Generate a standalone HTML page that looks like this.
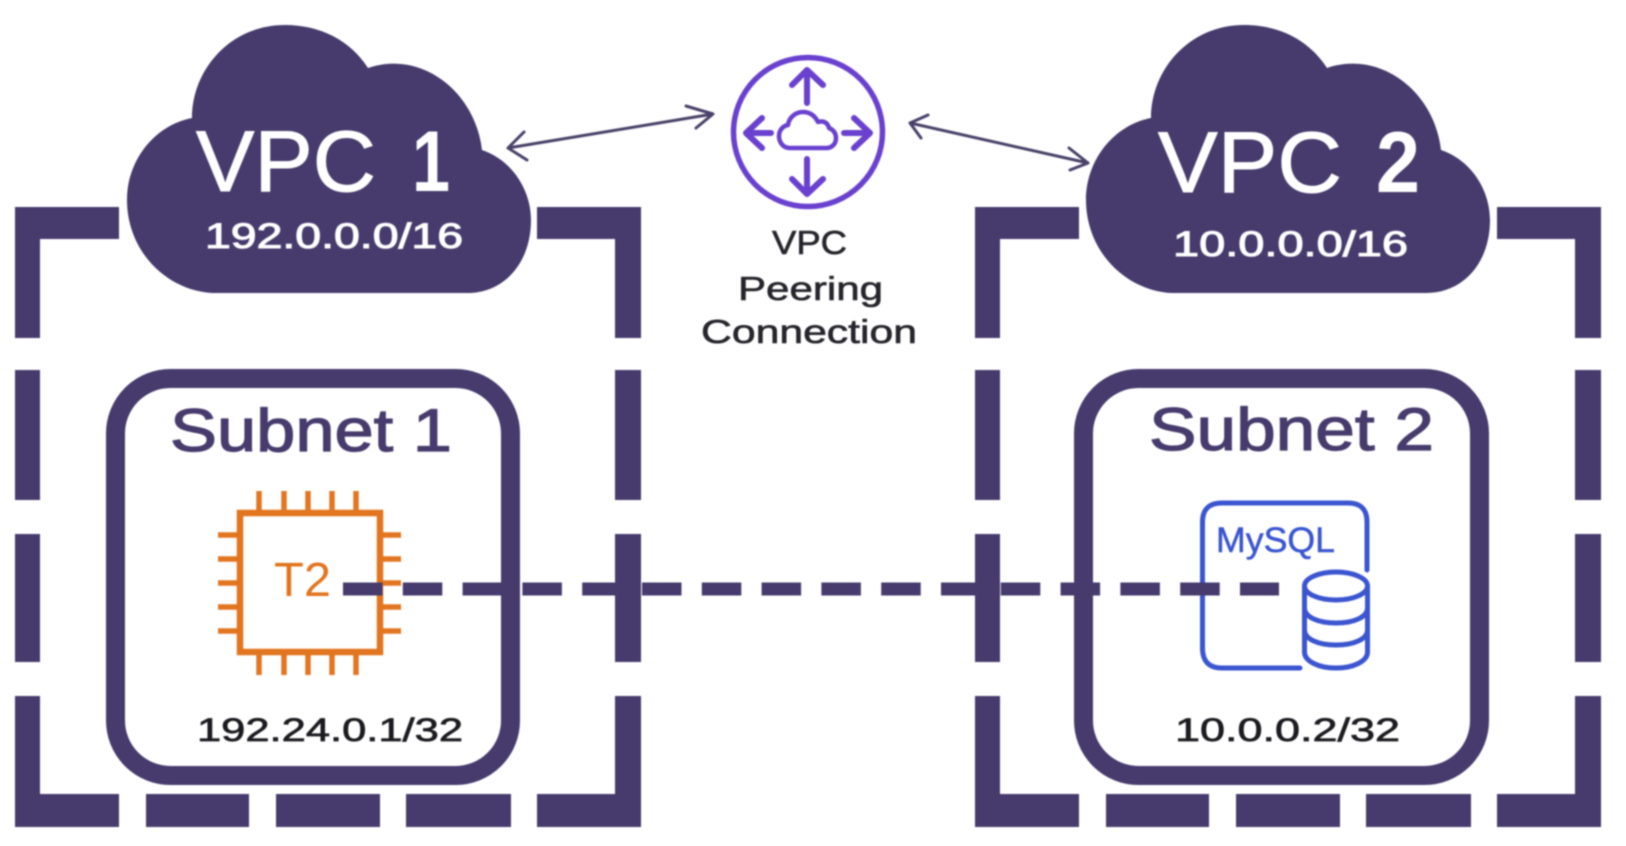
<!DOCTYPE html>
<html>
<head>
<meta charset="utf-8">
<style>
html,body{margin:0;padding:0;background:#fff;width:1626px;height:846px;overflow:hidden}
svg{display:block;filter:blur(0.8px)}
text{font-family:"Liberation Sans",sans-serif}
.w{stroke:#fff;stroke-width:1}
.p{stroke:#463b6c;stroke-width:1.2}
.k{stroke:#1c1b20;stroke-width:.7}
</style>
</head>
<body>
<svg width="1626" height="846" viewBox="0 0 1626 846" xmlns="http://www.w3.org/2000/svg">
<rect width="1626" height="846" fill="#fff"/>
<defs>
<g id="frame" fill="#463b6c">
<path d="M15 207H119V239H40V338H15Z"/>
<path d="M641 207H537V239H615V338H641Z"/>
<rect x="15" y="370" width="25" height="130"/>
<rect x="15" y="534" width="25" height="128"/>
<rect x="615" y="370" width="26" height="130"/>
<rect x="615" y="534" width="26" height="128"/>
<path d="M15 696H40V794H119V827H15Z"/>
<path d="M641 696H615V794H537V827H641Z"/>
<rect x="146" y="794" width="103" height="33"/>
<rect x="276" y="794" width="104" height="33"/>
<rect x="406" y="794" width="105" height="33"/>
</g>
<path id="cloud" fill="#463b6c" d="M212 293C165 290 127 250 127 200C127 160 155 125 192 118C192 70 230 25 285 25C320 25 350 40 368 68C420 50 475 90 482 150C512 160 531 190 531 220C531 262 505 293 467 293Z"/>
</defs>

<use href="#frame"/>
<use href="#frame" x="960"/>
<use href="#cloud"/>
<use href="#cloud" x="959"/>

<rect x="115.500" y="378.500" width="395" height="397" rx="55" fill="none" stroke="#463b6c" stroke-width="19"/>
<rect x="1083.500" y="378.500" width="396" height="397" rx="55" fill="none" stroke="#463b6c" stroke-width="19"/>

<text class="w" x="196" y="191" font-size="86" fill="#fff" textLength="180" lengthAdjust="spacingAndGlyphs">VPC</text>
<text x="412" y="191" font-size="86" font-weight="bold" fill="#fff" textLength="38" lengthAdjust="spacingAndGlyphs">1</text>
<text class="w" x="205" y="248" font-size="35" fill="#fff" textLength="258" lengthAdjust="spacingAndGlyphs">192.0.0.0/16</text>
<text class="w" x="1158" y="192" font-size="86" fill="#fff" textLength="184" lengthAdjust="spacingAndGlyphs">VPC</text>
<text x="1376" y="192" font-size="86" font-weight="bold" fill="#fff" textLength="44" lengthAdjust="spacingAndGlyphs">2</text>
<text class="w" x="1173" y="256" font-size="35" fill="#fff" textLength="235" lengthAdjust="spacingAndGlyphs">10.0.0.0/16</text>

<g fill="none" stroke="#4a4268" stroke-width="3" stroke-linecap="round" stroke-linejoin="round">
<path d="M508 148L713 114M524 132L508 148L527 160M686 106L713 114L696 128"/>
<path d="M910 123L1088 163M928 115L910 123L921 138M1069 148L1088 163L1070 170"/>
</g>

<g fill="none" stroke="#6a41cf" stroke-linecap="round" stroke-linejoin="round">
<circle cx="808" cy="132" r="74.500" stroke-width="5.500"/>
<g stroke-width="6">
<path d="M807 103V70M792 85L807 70L823 85"/>
<path d="M807 159V194M792 179L807 194L823 179"/>
<path d="M771 133H746M762 118L746 133L762 148"/>
<path d="M844 133H870M854 118L870 133L854 148"/>
</g>
<path stroke-width="4.500" d="M790 148C782 148 779 141 779 136C779 130 783 126 788 125C789 117 796 112 803 112C810 112 815 116 818 122C825 120 828 124 829 128C834 130 836 134 836 138C836 144 832 148 826 148Z"/>
</g>

<g fill="#26252b" font-size="33" stroke="#26252b" stroke-width=".6">
<text x="772" y="254" textLength="75" lengthAdjust="spacingAndGlyphs">VPC</text>
<text x="738" y="300" textLength="145" lengthAdjust="spacingAndGlyphs">Peering</text>
<text x="701" y="343" textLength="216" lengthAdjust="spacingAndGlyphs">Connection</text>
</g>

<text class="p" x="170" y="451" font-size="60" fill="#463b6c" textLength="282" lengthAdjust="spacingAndGlyphs">Subnet 1</text>
<text class="p" x="1149" y="450" font-size="60" fill="#463b6c" textLength="285" lengthAdjust="spacingAndGlyphs">Subnet 2</text>

<g stroke="#e2751f" fill="none">
<rect x="240" y="513" width="140" height="139" stroke-width="6.500"/>
<g stroke-width="5.500">
<path d="M259 491V510M284 491V510M308 491V510M332 491V510M356 491V510"/>
<path d="M259 655V675M284 655V675M308 655V675M332 655V675M356 655V675"/>
<path d="M218 535H237M218 559H237M218 583H237M218 607H237M218 631H237"/>
<path d="M383 535H401M383 559H401M383 583H401M383 607H401M383 631H401"/>
</g>
</g>
<text x="274" y="596" font-size="48" fill="#e2751f" textLength="57" lengthAdjust="spacingAndGlyphs">T2</text>

<g fill="none" stroke="#3b55d0" stroke-width="5" stroke-linecap="round">
<path d="M1367 570V522Q1367 503 1348 503H1222Q1202.500 503 1202.500 522V648Q1202.500 668 1222 668H1300"/>
<ellipse cx="1336" cy="586" rx="31.500" ry="14"/>
<path d="M1304.500 586V652C1304.500 661 1318 668 1336 668C1354 668 1367.500 661 1367.500 652V586"/>
<path d="M1304.500 608C1304.500 617 1318 623 1336 623C1354 623 1367.500 617 1367.500 608"/>
<path d="M1304.500 630C1304.500 639 1318 645 1336 645C1354 645 1367.500 639 1367.500 630"/>
</g>
<text x="1216" y="552" font-size="35" fill="#3b55d0" stroke="#3b55d0" stroke-width=".5" textLength="119" lengthAdjust="spacingAndGlyphs">MySQL</text>

<text class="k" x="197" y="741" font-size="32" fill="#1c1b20" textLength="266" lengthAdjust="spacingAndGlyphs">192.24.0.1/32</text>
<text class="k" x="1175" y="741" font-size="32" fill="#1c1b20" textLength="225" lengthAdjust="spacingAndGlyphs">10.0.0.2/32</text>

<path d="M343 589H1279" stroke="#463b6c" stroke-width="13" stroke-dasharray="39.500 20.300" fill="none"/>
</svg>
</body>
</html>
